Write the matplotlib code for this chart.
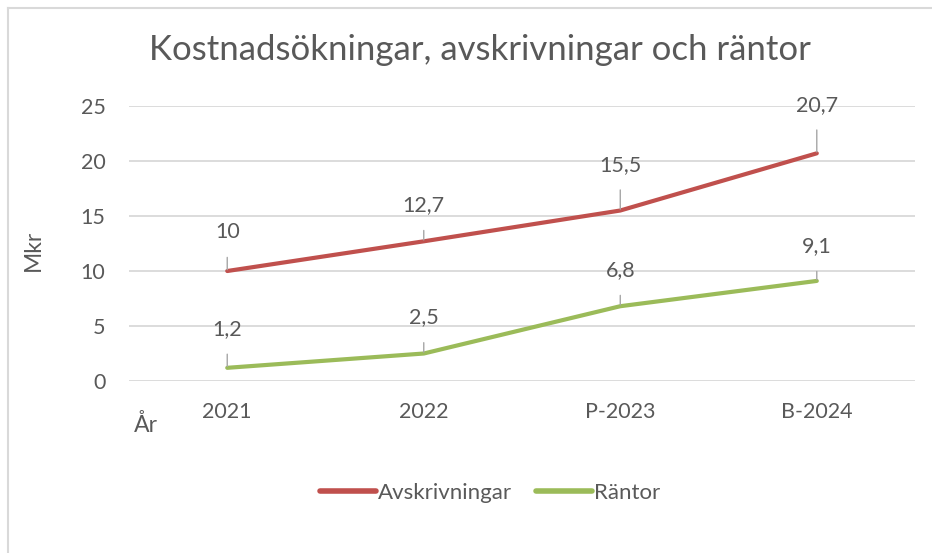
import matplotlib
matplotlib.use("Agg")
import matplotlib.pyplot as plt
from matplotlib.lines import Line2D

plt.rcParams['font.family'] = ['Lato', 'DejaVu Sans']

years = ['2021', '2022', 'P-2023', 'B-2024']
avskrivningar = [10, 12.7, 15.5, 20.7]
rantor = [1.2, 2.5, 6.8, 9.1]

# label lift above each point, in points
avskr_lift = [28, 26, 33, 35]
rantor_lift = [28, 26, 26, 25]

TXT = '#595959'
GRID = '#D9D9D9'
RED = '#C0504D'
GREEN = '#9BBB59'

fig = plt.figure(figsize=(9.32, 5.53), dpi=100)
ax = fig.add_axes([0.1384, 0.311, 0.8434, 0.4973])

x = range(len(years))
ax.plot(x, avskrivningar, color=RED, lw=3, solid_capstyle='round', label='Avskrivningar', zorder=3)
ax.plot(x, rantor, color=GREEN, lw=3, solid_capstyle='round', label='Räntor', zorder=3)


def fmt(v):
    s = f"{v:g}"
    return s.replace('.', ',')


for vals, lifts in [(avskrivningar, avskr_lift), (rantor, rantor_lift)]:
    for i, (v, lift) in enumerate(zip(vals, lifts)):
        ax.annotate(fmt(v), xy=(i, v), xytext=(0, lift), textcoords='offset points',
                    ha='center', va='center', fontsize=15.5, color=TXT,
                    arrowprops=dict(arrowstyle='-', color='#A6A6A6', lw=1,
                                    shrinkA=9, shrinkB=1), zorder=4)

ax.set_xlim(-0.5, 3.5)
ax.set_ylim(0, 25)
ax.set_yticks(range(0, 26, 5))
ax.set_xticks(list(x))
ax.set_xticklabels(years)
ax.yaxis.grid(True, color=GRID, lw=1.3)
ax.set_axisbelow(True)
for sp in ax.spines.values():
    sp.set_visible(False)
ax.tick_params(length=0, labelsize=15.5, labelcolor=TXT)
ax.tick_params(axis='y', pad=17)
ax.tick_params(axis='x', pad=15)

fig.text(0.515, 0.909, 'Kostnadsökningar, avskrivningar och räntor', ha='center', va='center',
         fontsize=25, color=TXT)
fig.text(0.036, 0.548, 'Mkr', rotation=90, ha='center', va='center', fontsize=16.5, color=TXT)
fig.text(0.157, 0.231, 'År', ha='center', va='center', fontsize=16.5, color=TXT)

fig.legend(loc='center', bbox_to_anchor=(0.526, 0.108), ncol=2, frameon=False,
           fontsize=16, labelcolor=TXT, handlelength=2.5, handletextpad=0.1,
           columnspacing=1.1)
for h in fig.legends[0].get_lines():
    h.set_linewidth(4)

# chart frame edges
fig.add_artist(Line2D([7.5 / 932, 7.5 / 932], [0, 1 - 7.5 / 553], color=GRID, lw=1.5))
fig.add_artist(Line2D([7.5 / 932, 1], [1 - 7.5 / 553, 1 - 7.5 / 553], color=GRID, lw=1.5))

fig.savefig('out.png', dpi=100)
